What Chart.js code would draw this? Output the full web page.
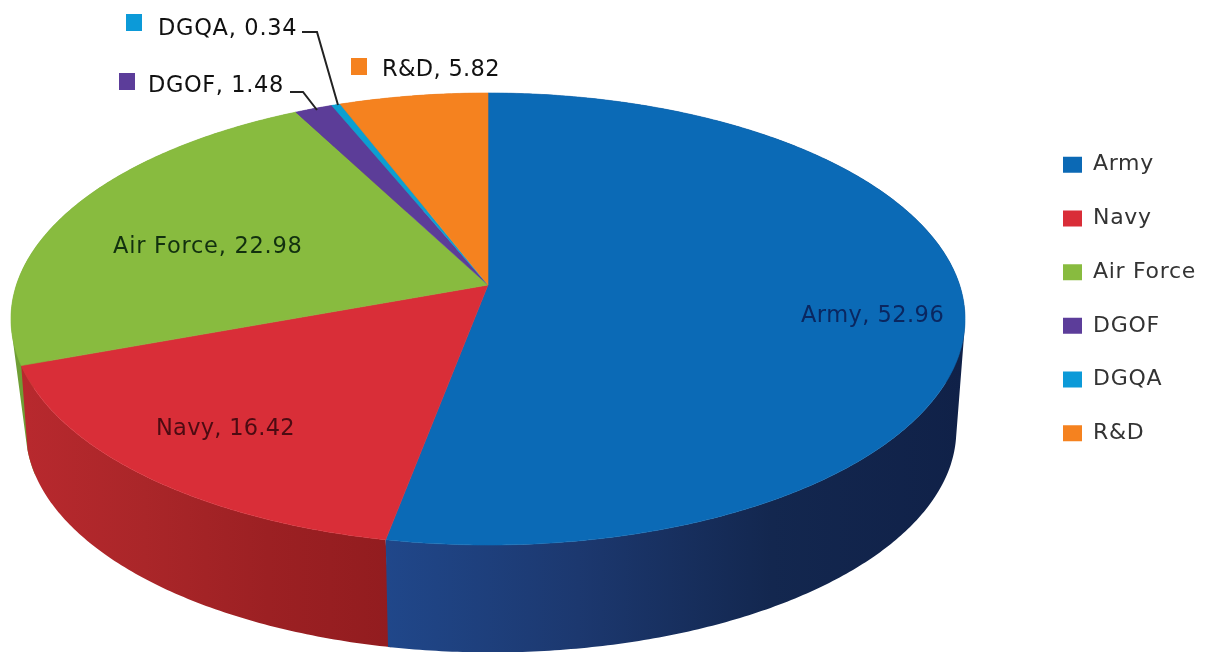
<!DOCTYPE html>
<html>
<head>
<meta charset="utf-8">
<script src="https://cdn.jsdelivr.net/npm/chart.js@4/dist/chart.umd.js"></script>
<style>
	html, body { margin: 0; padding: 0; background: #fff; overflow: hidden; }
	canvas { display: block; filter: blur(0.6px); }
</style>
</head>
<body>
<canvas id="budget" width="1209" height="652"></canvas>
<script>
var categories = ["Army", "Navy", "Air Force", "DGOF", "DGQA", "R&D"];
var shares = [52.96, 16.42, 22.98, 1.48, 0.34, 5.82];
var faceColors = ["#0b6ab6", "#d92e38", "#88bb3f", "#5c3d98", "#0c9fd2", "#f5821f"];
var legendColors = ["#0b69b5", "#d92d38", "#88bb3f", "#5c3d9a", "#0c9ad8", "#f5821f"];
// wall shading, left to right
var wallColors = [
	["#20478a", "#1c386f", "#13274f", "#102148"],
	["#b8292e", "#aa2629", "#9c2023", "#921c1f"],
	["#6f9e35", "#6f9e35", "#6f9e35", "#6f9e35"],
	["#4a2f78", "#4a2f78", "#4a2f78", "#4a2f78"],
	["#0a80a8", "#0a80a8", "#0a80a8", "#0a80a8"],
	["#c46818", "#c46818", "#c46818", "#c46818"],
];
// lower rim runs a little further round so the slice seams stay upright
var seamNudge = [0.006, 0.115, 0, 0, 0, 0];

// perspective ellipse for top face and bottom rim of the disc
var topRim = { cx: 488, cy: 285, a: 471.6, b: 220.9, k: -0.1504 };
var lowRim = { cx: 491, cy: 397, a: 460, b: 217, k: -0.1504 };

function project(rim, angle) {
	var u = Math.cos(angle);
	var v = Math.sin(angle);
	var w = 1 + rim.k * v;
	return { x: rim.cx + (rim.a * u) / w, y: rim.cy + (rim.b * v) / w };
}

function sampleArc(rim, from, to) {
	var pts = [];
	var n = Math.max(2, Math.ceil((to - from) / 0.01));
	for (var i = 0; i <= n; i++) {
		pts.push(project(rim, from + ((to - from) * i) / n));
	}
	return pts;
}

function drawWall(ctx, arc, i) {
	var n = Math.max(2, Math.ceil((arc.endAngle - arc.startAngle) / 0.01));
	var upper = [];
	var lower = [];
	for (var j = 0; j <= n; j++) {
		var t = j / n;
		var angle = arc.startAngle + (arc.endAngle - arc.startAngle) * t;
		upper.push(project(topRim, angle));
		lower.push(project(lowRim, angle + t * seamNudge[i]));
	}
	var xs = upper.concat(lower).map(function (p) { return p.x; });
	var grad = ctx.createLinearGradient(Math.min.apply(null, xs), 0, Math.max.apply(null, xs), 0);
	wallColors[i].forEach(function (c, j) {
		grad.addColorStop(j / (wallColors[i].length - 1), c);
	});
	ctx.fillStyle = grad;
	// one path, every quad wound the same way, so no seams between strips
	ctx.beginPath();
	for (var q = 0; q < n; q++) {
		var quad = [upper[q], upper[q + 1], lower[q + 1], lower[q]];
		var area = 0;
		for (var s = 0; s < 4; s++) {
			var p1 = quad[s];
			var p2 = quad[(s + 1) % 4];
			area += p1.x * p2.y - p2.x * p1.y;
		}
		if (area < 0) quad.reverse();
		ctx.moveTo(quad[0].x, quad[0].y);
		ctx.lineTo(quad[1].x, quad[1].y);
		ctx.lineTo(quad[2].x, quad[2].y);
		ctx.lineTo(quad[3].x, quad[3].y);
		ctx.closePath();
	}
	ctx.fill();
}

function drawFace(ctx, arc, i) {
	var pts = sampleArc(topRim, arc.startAngle, arc.endAngle);
	ctx.fillStyle = faceColors[i];
	ctx.strokeStyle = faceColors[i];
	ctx.lineWidth = 0.6;
	ctx.beginPath();
	ctx.moveTo(topRim.cx, topRim.cy);
	pts.forEach(function (p) { ctx.lineTo(p.x, p.y); });
	ctx.closePath();
	ctx.fill();
	ctx.stroke();
}

// where each "name, value" label goes (left edge, middle of text, tracking)
var labelSpots = [
	{ x: 801, y: 316, track: 0.45, color: "#0a2760" },
	{ x: 156, y: 429, track: 0.27, color: "#4c0b12" },
	{ x: 113, y: 247, track: 0.75, color: "#12300f" },
	{ x: 148, y: 86, track: 0.6, color: "#111", key: [119, 73] },
	{ x: 158, y: 29, track: 0.7, color: "#111", key: [126, 14] },
	{ x: 382, y: 70, track: 0.33, color: "#111", key: [351, 58] },
];
var leaders = [
	[[290, 92], [303, 92], [317, 110]],
	[[302, 32], [317, 32], [338, 105]],
];

var pie3d = {
	id: "pie3d",
	afterLayout: function (chart) {
		// legend boxes sit at a fixed column on the right
		chart.legend.left = 1063 - chart.legend.options.labels.padding;
	},
	beforeDraw: function (chart) {
		chart.ctx.letterSpacing = "0.7px"; // legend text runs a bit wide in the original
	},
	beforeDatasetsDraw: function (chart) {
		var ctx = chart.ctx;
		var arcs = chart.getDatasetMeta(0).data;
		ctx.save();
		// back to front so the front walls win
		[3, 4, 5, 2, 1, 0].forEach(function (i) { drawWall(ctx, arcs[i], i); });
		arcs.forEach(function (arc, i) { drawFace(ctx, arc, i); });

		ctx.strokeStyle = "#222";
		ctx.lineWidth = 2;
		leaders.forEach(function (line) {
			ctx.beginPath();
			line.forEach(function (p, j) {
				if (j === 0) ctx.moveTo(p[0], p[1]);
				else ctx.lineTo(p[0], p[1]);
			});
			ctx.stroke();
		});

		ctx.font = "22.5px 'DejaVu Sans'";
		ctx.textBaseline = "middle";
		ctx.textAlign = "left";
		categories.forEach(function (name, i) {
			var spot = labelSpots[i];
			if (spot.key) {
				ctx.fillStyle = legendColors[i];
				ctx.fillRect(spot.key[0], spot.key[1], 16, 17);
			}
			ctx.fillStyle = spot.color;
			ctx.letterSpacing = spot.track + "px";
			ctx.fillText(name + ", " + shares[i].toFixed(2), spot.x, spot.y);
		});
		ctx.restore();
		return false;
	},
};

var chart_budget = new Chart(document.getElementById("budget").getContext("2d"), {
	type: "pie",
	data: {
		labels: categories,
		datasets: [
			{
				data: shares,
				backgroundColor: legendColors,
				borderWidth: 0,
			},
		],
	},
	options: {
		responsive: false,
		animation: false,
		layout: { padding: { bottom: 54 } },
		plugins: {
			tooltip: { enabled: false },
			legend: {
				position: "right",
				labels: {
					boxWidth: 19,
					boxHeight: 16,
					padding: 31.7,
					color: "#333",
					font: { family: "'DejaVu Sans'", size: 22 },
				},
			},
		},
	},
	plugins: [pie3d],
});
</script>
</body>
</html>
